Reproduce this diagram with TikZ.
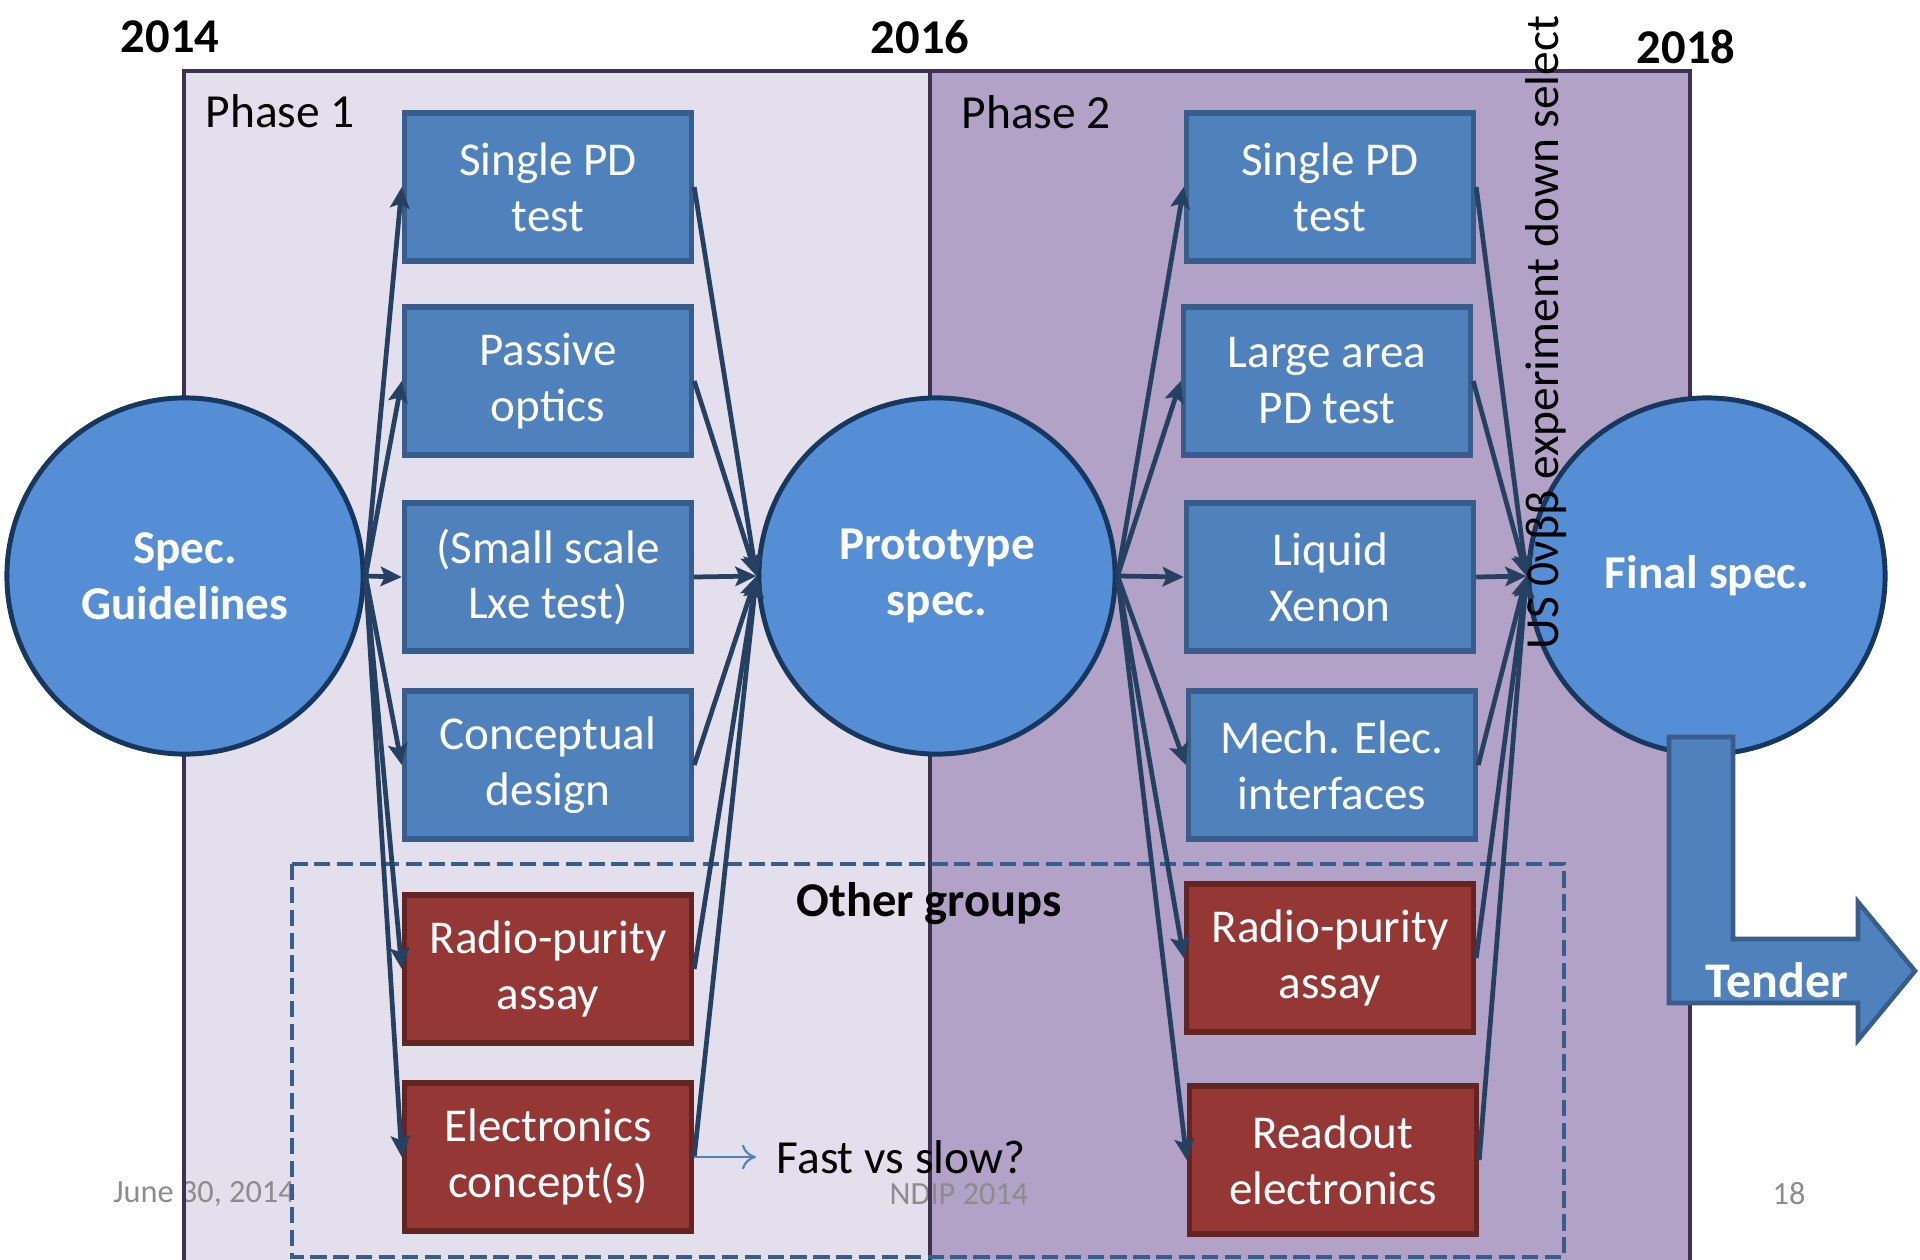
\documentclass[tikz,border=0pt]{standalone}
\usepackage{fontspec}
\setmainfont{Carlito}
\usetikzlibrary{arrows.meta,positioning}

\definecolor{phaseone}{HTML}{E4DFEC}
\definecolor{phasetwo}{HTML}{B3A2C7}
\definecolor{phaseline}{HTML}{3F3151}
\definecolor{specfill}{HTML}{558ED5}
\definecolor{specline}{HTML}{17375E}
\definecolor{boxfill}{HTML}{4F81BD}
\definecolor{boxline}{HTML}{385D8A}
\definecolor{redfill}{HTML}{953735}
\definecolor{redline}{HTML}{632523}
\definecolor{flow}{HTML}{254061}
\definecolor{footgray}{HTML}{8C8C8C}

\tikzset{
  milestone/.style={circle, draw=specline, fill=specfill, line width=1.4pt, minimum size=3.56cm, inner sep=0pt, text=white, align=center, font=\fontsize{13.4}{15.9}\selectfont\bfseries},
  taskbox/.style={rectangle, draw=boxline, fill=boxfill, line width=1.5pt, minimum width=2.87cm, minimum height=1.48cm, inner sep=0pt, text=white, align=center, font=\fontsize{13.4}{15.9}\selectfont},
  otherbox/.style={taskbox, draw=redline, fill=redfill},
  flowarrow/.style={-{Stealth[length=6pt,width=5.5pt,inset=1.2pt]}, draw=flow, line width=1.35pt},
  yearlabel/.style={font=\fontsize{13.8}{17}\selectfont\bfseries},
  plainlabel/.style={font=\fontsize{13.5}{17}\selectfont},
  footlabel/.style={text=footgray, font=\fontsize{9.2}{11}\selectfont}
}

\begin{document}
\begin{tikzpicture}[x=0.01cm, y=-0.01cm]
  \useasboundingbox (0,0) rectangle (1920,1260);

  \fill[phaseone] (184,71) rectangle (930,1265);
  \fill[phasetwo] (930,71) rectangle (1690,1265);

  \node[footlabel] (date) at (204,1194) {June 30, 2014};
  \node[footlabel] (conf) at (959,1194) {NDIP 2014};
  \node[footlabel] (page) at (1789,1194) {18};

  \draw[phaseline, line width=1.3pt] (184,1265) -- (184,71) -- (1690,71) -- (1690,1265);
  \draw[phaseline, line width=1.3pt] (930,71) -- (930,1265);

  \draw[boxline, line width=1.1pt, dash pattern=on 4.6pt off 1.9pt] (292,864) rectangle (1564,1257);

  \node[yearlabel] (y14) at (170,37) {2014};
  \node[yearlabel] (y16) at (920,37) {2016};
  \node[yearlabel] (y18) at (1686,47) {2018};

  \node[plainlabel, anchor=base west, inner sep=0pt] (ph1) at (205,127) {Phase 1};
  \node[plainlabel, anchor=base west, inner sep=0pt] (ph2) at (961,128) {Phase 2};

  \node[milestone] (spec) at (185,576) {Spec.\\Guidelines};
  \node[milestone] (proto) at (937,576) {Prototype\\spec.};
  \node[milestone] (final) at (1707,576) {Final spec.};

  \node[taskbox] (sglA) at (548,187) {Single PD\\test};
  \node[taskbox] (passA) at (548,381) {Passive\\optics};
  \node[taskbox] (smallA) at (548,577) {(Small scale\\Lxe test)};
  \node[taskbox] (conceptA) at (548,765) {Conceptual\\design};
  \node[otherbox] (radioA) at (548,969) {Radio-purity\\assay};
  \node[otherbox] (elecA) at (548,1157) {Electronics\\concept(s)};

  \node[taskbox] (sglB) at (1330,187) {Single PD\\test};
  \node[taskbox] (largeB) at (1327,381) {Large area\\PD test};
  \node[taskbox] (lxeB) at (1330,577) {Liquid\\Xenon};
  \node[taskbox] (mechB) at (1332,765) {Mech. Elec.\\interfaces};
  \node[otherbox] (radioB) at (1330,958) {Radio-purity\\assay};
  \node[otherbox] (readB) at (1333,1160) {Readout\\electronics};

  \foreach \b in {sglA,passA,smallA,conceptA,radioA,elecA} {
    \draw[flowarrow] (spec.east) -- (\b.west);
    \draw[flowarrow] (\b.east) -- (proto.west);
  }
  \foreach \b in {sglB,largeB,lxeB,mechB,radioB,readB} {
    \draw[flowarrow] (proto.east) -- (\b.west);
    \draw[flowarrow] (\b.east) -- (final.west);
  }

  \node[plainlabel, anchor=west, inner sep=0pt] (fast) at (776,1157) {Fast vs slow?};
  \draw[-{To[length=4pt,width=7pt]}, boxfill, line width=0.6pt, shorten >=0.2cm] (elecA.east) -- (fast.west);

  \node[yearlabel] (other) at (929,904) {Other groups};

  \draw[draw=boxline, fill=boxfill, line width=1.3pt]
    (1669,737) -- (1733,737) -- (1733,939) -- (1858,939) -- (1858,902)
    -- (1915,971) -- (1858,1040) -- (1858,1003) -- (1669,1003) -- cycle;
  \node[text=white, font=\fontsize{14.2}{17}\selectfont\bfseries] (tender) at (1777,980) {Tender};

  \node[rotate=90, anchor=base west, inner sep=0pt, font=\fontsize{13.5}{16}\selectfont] (downsel) at (1558,650) {US 0νββ experiment down select};
\end{tikzpicture}
\end{document}
